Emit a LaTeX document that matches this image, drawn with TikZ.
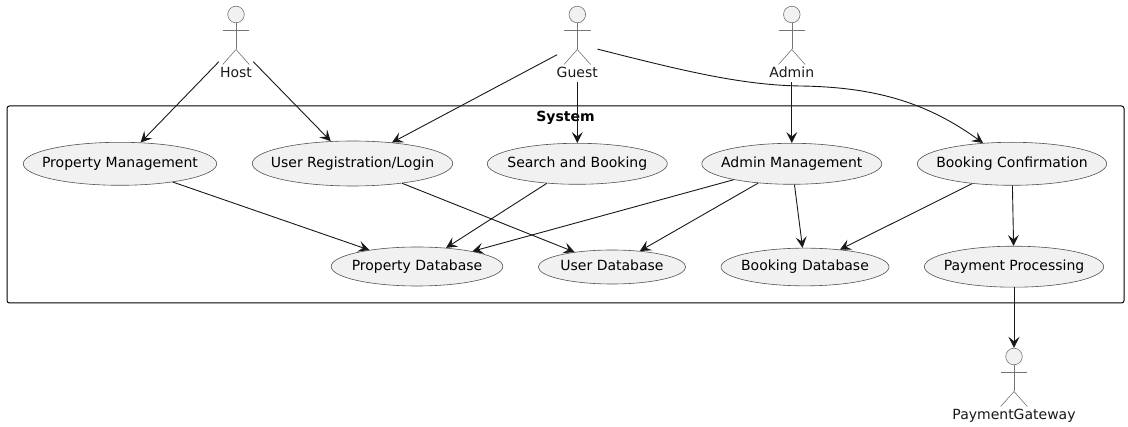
\documentclass[tikz,border=0pt]{standalone}
\usepackage{fontspec}
\setmainfont{DejaVu Sans}
\usetikzlibrary{shapes.geometric,arrows.meta}
\definecolor{umlfill}{HTML}{F1F1F1}
\definecolor{umlline}{HTML}{181818}

\begin{document}
\begin{tikzpicture}[
    x=1pt, y=-1pt,
    usecase/.style={ellipse, draw=umlline!75, fill=umlfill, line width=0.6pt, inner sep=0pt, font=\fontsize{14}{16}\selectfont},
    actorbox/.style={rectangle, inner sep=0pt, minimum height=76pt},
    actorname/.style={anchor=base, inner sep=0pt, font=\fontsize{14}{16}\selectfont, text=umlline},
    stick/.style={draw=umlline!60, line width=0.6pt},
    flow/.style={draw=umlline, line width=0.9pt, -{Stealth[length=11pt,width=11pt,inset=4.5pt]}}
]
\useasboundingbox (0,0) rectangle (1128,427);

% System frame
\draw[black, line width=1pt, rounded corners=2.5pt] (7,106) rectangle (1124,303);
\node[anchor=base, inner sep=0pt, font=\fontsize{14}{16}\selectfont\bfseries] (systitle) at (565.5,121.7) {System};

% Actors
\foreach \name/\txt/\x/\y/\w in {host/Host/236/6/34, guest/Guest/577.3/6/40, admin/Admin/791.8/6/44, gateway/PaymentGateway/1014/348/122} {
    \node[actorbox, minimum width=\w pt] (\name) at (\x,\y+38) {};
    \fill[umlfill] (\x,\y+8.5) circle (8.3);
    \draw[stick] (\x,\y+8.5) circle (8.3);
    \draw[stick] (\x,\y+16.8) -- (\x,\y+43.5);
    \draw[stick] (\x-13.3,\y+24) -- (\x+13.3,\y+24);
    \draw[stick] (\x-13.3,\y+58.5) -- (\x,\y+43.5) -- (\x+13.3,\y+58.5);
    \node[actorname] (\name name) at (\x,\y+71.7) {\txt};
}

% Use cases
\foreach \name/\x/\y/\w/\h/\txt in {
    propmgmt/120/163.8/193.4/43/{Property Management},
    userreg/352.5/163.5/200.4/45/{User Registration/Login},
    search/577.3/163.8/180/41/{Search and Booking},
    adminmgmt/791.8/163.8/180/41/{Admin Management},
    confirm/1012/163.8/189.4/43/{Booking Confirmation},
    propdb/417/266.5/171.7/39/{Property Database},
    userdb/612/267/147.4/34/{User Database},
    bookdb/805/267/168/37.7/{Booking Database},
    payment/1014/266.7/179.3/41/{Payment Processing}} {
    \node[usecase, minimum width=\w pt, minimum height=\h pt] (\name) at (\x,\y) {\makebox[0pt]{\rule[-4.6pt]{0pt}{16.6pt}\txt}};
}

\coordinate (bend) at (800,86);

% Connectors
\draw[flow] (host) -- (propmgmt);
\draw[flow] (host) -- (userreg);
\draw[flow] (guest) -- (userreg);
\draw[flow] (guest) -- (search);
\draw[flow] (guest) .. controls (680,70) and (740,85) .. (bend) .. controls (880,87) and (930,105) .. (confirm);
\draw[flow] (admin) -- (adminmgmt);
\draw[flow] (propmgmt) -- (propdb);
\draw[flow] (userreg) -- (userdb);
\draw[flow] (search) -- (propdb);
\draw[flow] (adminmgmt) -- (propdb);
\draw[flow] (adminmgmt) -- (userdb);
\draw[flow] (adminmgmt) -- (bookdb);
\draw[flow] (confirm) -- (bookdb);
\draw[flow] (confirm) -- (payment);
\draw[flow] (payment) -- (gateway);

\end{tikzpicture}
\end{document}
